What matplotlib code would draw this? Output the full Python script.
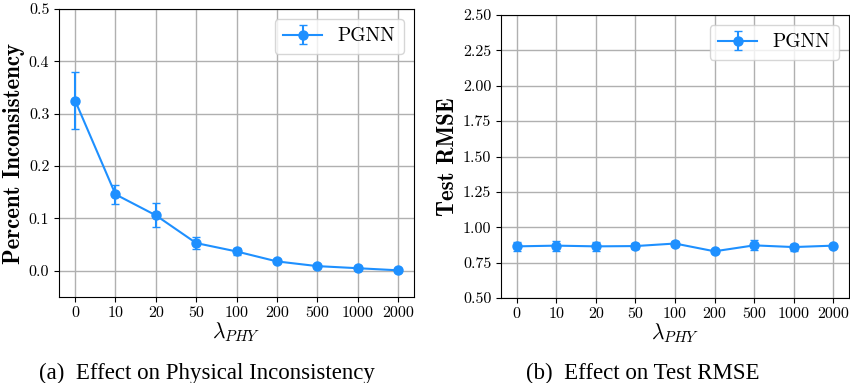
import numpy as np
import matplotlib
matplotlib.use('Agg')
import matplotlib.pyplot as plt

plt.rcParams['font.family'] = 'cmr10'
plt.rcParams['mathtext.fontset'] = 'cm'
plt.rcParams['axes.formatter.use_mathtext'] = True

# data
lambdas = ['0', '10', '20', '50', '100', '200', '500', '1000', '2000']
incons_mean = [0.325, 0.146, 0.106, 0.053, 0.037, 0.018, 0.009, 0.005, 0.001]
incons_err = [0.055, 0.018, 0.023, 0.012, 0.007, 0.004, 0.003, 0.003, 0.003]
rmse_mean = [0.865, 0.870, 0.865, 0.867, 0.885, 0.830, 0.872, 0.860, 0.870]
rmse_err = [0.030, 0.035, 0.030, 0.020, 0.015, 0.010, 0.035, 0.025, 0.010]

color = '#1E90FF'
fig = plt.figure(figsize=(8.5, 3.83), dpi=100)
ax1 = fig.add_axes([59/850, 1-297/383, 355/850, 288/383])
ax2 = fig.add_axes([501/850, 1-298/383, 348/850, 283/383])

x = np.arange(len(lambdas))

def draw(ax, mean, err, ylabel, ylim, yticks, fmt):
    ax.errorbar(x, mean, yerr=err, color=color, marker='o', markersize=6.5,
                capsize=3, linewidth=1.5, label='PGNN')
    ax.set_xticks(x)
    ax.set_xticklabels(lambdas)
    ax.set_xlim(-0.4, 8.4)
    ax.set_ylim(*ylim)
    ax.set_yticks(yticks)
    ax.set_yticklabels([fmt % t for t in yticks])
    ax.tick_params(labelsize=11.5)
    ax.grid(True, color='#b0b0b0', linewidth=1)
    ax.set_axisbelow(True)
    ax.set_xlabel(r'$\lambda_{PHY}$', fontsize=15.5, labelpad=0)
    ax.set_ylabel(ylabel, fontsize=16.5, family='cmb10', labelpad=3)
    ax.legend(loc='upper right', fontsize=14, fancybox=True, framealpha=0.8,
              borderpad=0.45, handlelength=2.0, borderaxespad=0.5)

draw(ax1, incons_mean, incons_err, 'Percent Inconsistency', (-0.05, 0.5),
     [0.0, 0.1, 0.2, 0.3, 0.4, 0.5], '%.1f')
draw(ax2, rmse_mean, rmse_err, 'Test RMSE', (0.5, 2.5),
     [0.5, 0.75, 1.0, 1.25, 1.5, 1.75, 2.0, 2.25, 2.5], '%.2f')

fig.text(207/850, 1-373/383, '(a)  Effect on Physical Inconsistency', ha='center',
         va='center', fontsize=16.5, family='Liberation Serif')
fig.text(643/850, 1-373/383, '(b)  Effect on Test RMSE', ha='center',
         va='center', fontsize=16.5, family='Liberation Serif')

fig.savefig('out.png', dpi=100)
